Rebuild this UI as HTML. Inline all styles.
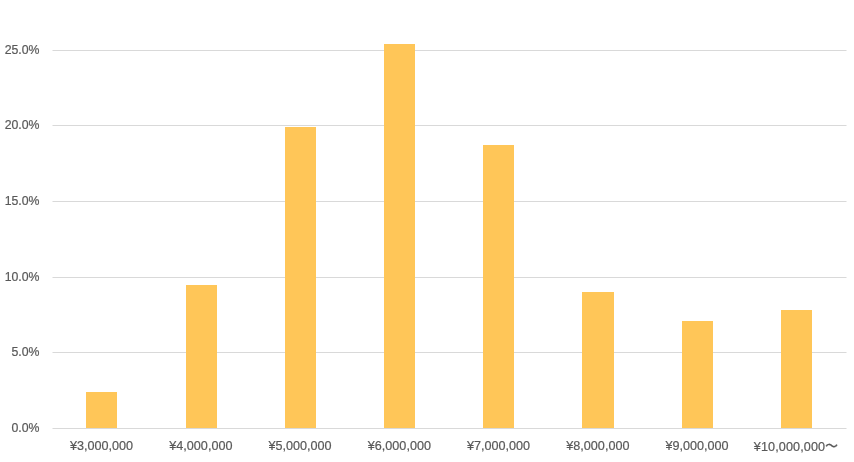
<!DOCTYPE html>
<html lang="ja">
<head>
<meta charset="utf-8">
<title>Chart</title>
<style>
html,body{margin:0;padding:0;background:#fff;}
body{width:854px;height:462px;position:relative;overflow:hidden;font-family:"Liberation Sans","Noto Sans CJK JP",sans-serif;color:#595959;-webkit-text-stroke:0.2px #595959;}
.g{position:absolute;left:52px;width:795px;height:1px;background:linear-gradient(to right,#ececec 0,#ececec 1px,#d9d9d9 1px,#d9d9d9 794px,#ececec 794px,#ececec 795px);}
.b{position:absolute;background:#ffc658;}
.y{position:absolute;left:0;width:39.5px;text-align:right;font-size:12.3px;line-height:14px;height:14px;white-space:nowrap;}
.w{font-weight:500;position:relative;top:-0.2px;-webkit-text-stroke:0.25px #595959;}
.x{position:absolute;width:120px;text-align:center;font-size:12.6px;line-height:14px;height:14px;white-space:nowrap;}
</style>
</head>
<body>
<div class="g" style="top:50px"></div>
<div class="g" style="top:125px"></div>
<div class="g" style="top:201px"></div>
<div class="g" style="top:277px"></div>
<div class="g" style="top:352px"></div>
<div class="g" style="top:428px"></div>
<div class="y" style="top:43.3px">25.0%</div>
<div class="y" style="top:118.3px">20.0%</div>
<div class="y" style="top:194.3px">15.0%</div>
<div class="y" style="top:270.3px">10.0%</div>
<div class="y" style="top:345.3px">5.0%</div>
<div class="y" style="top:421.3px">0.0%</div>
<div class="b" style="left:86px;top:392px;width:31px;height:36px"></div>
<div class="b" style="left:186px;top:285px;width:31px;height:143px"></div>
<div class="b" style="left:285px;top:127px;width:31px;height:301px"></div>
<div class="b" style="left:384px;top:44px;width:31px;height:384px"></div>
<div class="b" style="left:483px;top:145px;width:31px;height:283px"></div>
<div class="b" style="left:582px;top:292px;width:32px;height:136px"></div>
<div class="b" style="left:682px;top:321px;width:31px;height:107px"></div>
<div class="b" style="left:781px;top:310px;width:31px;height:118px"></div>
<div class="x" style="left:41.62px;top:438.5px">¥3,000,000</div>
<div class="x" style="left:140.88px;top:438.5px">¥4,000,000</div>
<div class="x" style="left:240.12px;top:438.5px">¥5,000,000</div>
<div class="x" style="left:339.38px;top:438.5px">¥6,000,000</div>
<div class="x" style="left:438.62px;top:438.5px">¥7,000,000</div>
<div class="x" style="left:537.88px;top:438.5px">¥8,000,000</div>
<div class="x" style="left:637.12px;top:438.5px">¥9,000,000</div>
<div class="x" style="left:735.88px;top:439.5px;letter-spacing:0.12px">¥10,000,000<span class="w">～</span></div>
</body>
</html>
